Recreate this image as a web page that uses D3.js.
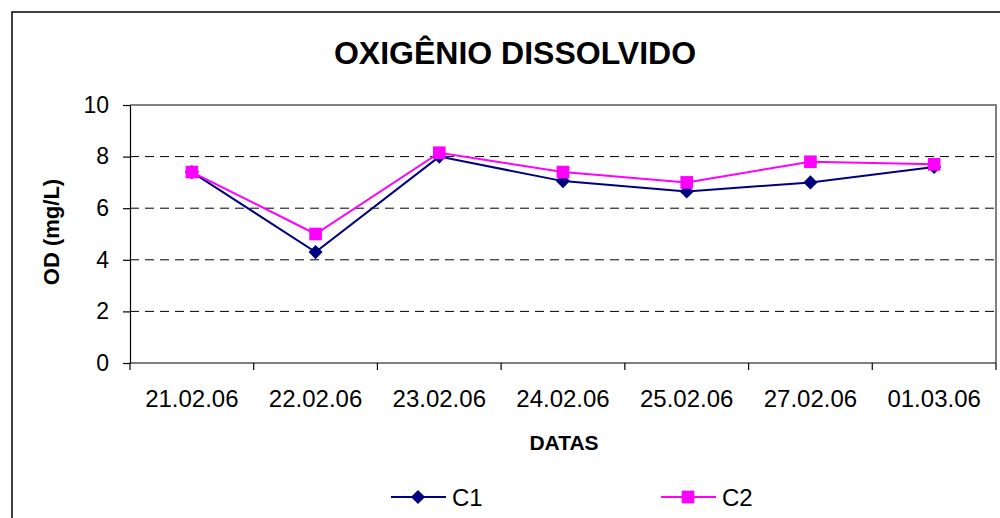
<!DOCTYPE html>
<html>
<head>
<meta charset="utf-8">
<script src="https://cdn.jsdelivr.net/npm/d3@7"></script>
<style>
  body { margin: 0; background: #fff; }
  svg { display: block; font-family: "Liberation Sans", Arial, sans-serif; }
</style>
</head>
<body>
<svg id="chart" width="1000" height="518"></svg>
<script>
// data
const datas = ["21.02.06", "22.02.06", "23.02.06", "24.02.06", "25.02.06", "27.02.06", "01.03.06"];
const c1 = [7.4, 4.3, 8.0, 7.05, 6.65, 7.0, 7.6];
const c2 = [7.4, 5.0, 8.15, 7.4, 7.0, 7.8, 7.7];
const yTicks = [0, 2, 4, 6, 8, 10];

const svg = d3.select("#chart");
const W = 1000, H = 518;
const plot = {left: 130, right: 996, top: 105, bottom: 363};

// excel style diamond, as wide as it is tall
const squareDiamond = {
    draw: function(ctx, size) {
        const r = Math.sqrt(size) / 2;
        ctx.moveTo(0, -r);
        ctx.lineTo(r, 0);
        ctx.lineTo(0, r);
        ctx.lineTo(-r, 0);
        ctx.closePath();
    }
};

// outer chart frame (runs off the right/bottom edge like the source)
svg.append("path")
    .attr("d", "M12," + H + "V12H" + W)
    .attr("fill", "none")
    .attr("stroke", "#000")
    .attr("stroke-width", 1.5);

const x = d3.scaleBand().domain(datas).range([plot.left, plot.right]);
const y = d3.scaleLinear().domain([0, 10]).range([plot.bottom, plot.top]);

// dashed gridlines
svg.append("g")
    .selectAll("line")
    .data(yTicks.filter(d => d > 0 && d < 10))
    .enter()
    .append("line")
    .attr("x1", plot.left).attr("x2", plot.right)
    .attr("y1", d => y(d)).attr("y2", d => y(d))
    .attr("stroke", "#000")
    .attr("stroke-width", 1)
    .attr("stroke-dasharray", "9,6");

// plot area top + right border
svg.append("path")
    .attr("d", "M" + plot.left + "," + plot.top + "H" + plot.right + "V" + plot.bottom)
    .attr("fill", "none")
    .attr("stroke", "#808080")
    .attr("stroke-width", 2);

// y axis
const yAxis = svg.append("g")
    .attr("transform", "translate(" + plot.left + ",0)")
    .call(d3.axisLeft(y).tickValues(yTicks).tickSize(7).tickPadding(14).tickSizeOuter(0));
yAxis.select(".domain").attr("stroke", "#000").attr("stroke-width", 1.2);
yAxis.selectAll(".tick line").attr("stroke", "#000").attr("stroke-width", 1.2);
yAxis.selectAll("text")
    .attr("font-size", 23)
    .attr("font-family", "Liberation Sans, Arial, sans-serif")
    .attr("fill", "#000");

// x axis, ticks sit on band edges
const xAxis = svg.append("g")
    .attr("transform", "translate(0," + plot.bottom + ")");
xAxis.append("line")
    .attr("x1", plot.left).attr("x2", plot.right)
    .attr("stroke", "#000").attr("stroke-width", 1.2);
xAxis.selectAll(".xtick")
    .data(datas.concat(["end"]))
    .enter()
    .append("line")
    .attr("x1", (d, i) => i < datas.length ? x(d) : x.range()[1])
    .attr("x2", (d, i) => i < datas.length ? x(d) : x.range()[1])
    .attr("y1", 0).attr("y2", 7)
    .attr("stroke", "#000").attr("stroke-width", 1.2);
xAxis.selectAll(".xlab")
    .data(datas)
    .enter()
    .append("text")
    .attr("x", d => x(d) + x.bandwidth() / 2)
    .attr("y", 44)
    .attr("text-anchor", "middle")
    .attr("font-size", 24)
    .attr("fill", "#000")
    .text(d => d);

// titles
svg.append("text")
    .attr("x", 515).attr("y", 64)
    .attr("text-anchor", "middle")
    .attr("font-size", 32)
    .attr("font-weight", "bold")
    .text("OXIGÊNIO DISSOLVIDO");

svg.append("text")
    .attr("x", 564).attr("y", 450)
    .attr("text-anchor", "middle")
    .attr("font-size", 21)
    .attr("font-weight", "bold")
    .text("DATAS");

svg.append("text")
    .attr("transform", "translate(59,232) rotate(-90)")
    .attr("text-anchor", "middle")
    .attr("font-size", 22)
    .attr("font-weight", "bold")
    .text("OD (mg/L)");

// series
const series = [
    {name: "C1", values: c1, color: "#000080", shape: squareDiamond, size: 200},
    {name: "C2", values: c2, color: "#FF00FF", shape: d3.symbolSquare, size: 160}
];

const line = d3.line()
    .x((d, i) => x(datas[i]) + x.bandwidth() / 2)
    .y(d => y(d));

series.forEach(s => {
    svg.append("path")
        .datum(s.values)
        .attr("d", line)
        .attr("fill", "none")
        .attr("stroke", s.color)
        .attr("stroke-width", 2);

    svg.append("g")
        .selectAll("path")
        .data(s.values)
        .enter()
        .append("path")
        .attr("d", d3.symbol().type(s.shape).size(s.size))
        .attr("transform", (d, i) => "translate(" + (x(datas[i]) + x.bandwidth() / 2) + "," + y(d) + ")")
        .attr("fill", s.color);
});

// legend
const legendX = [391, 661];
const legend = svg.append("g")
    .selectAll("g")
    .data(series)
    .enter()
    .append("g")
    .attr("transform", (d, i) => "translate(" + legendX[i] + ",497)");
legend.append("line")
    .attr("x1", 0).attr("x2", 55)
    .attr("stroke", d => d.color)
    .attr("stroke-width", 2);
legend.append("path")
    .attr("d", d => d3.symbol().type(d.shape).size(d.size)())
    .attr("transform", "translate(27,0)")
    .attr("fill", d => d.color);
legend.append("text")
    .attr("x", 61).attr("y", 9)
    .attr("font-size", 24)
    .text(d => d.name);
</script>
</body>
</html>
